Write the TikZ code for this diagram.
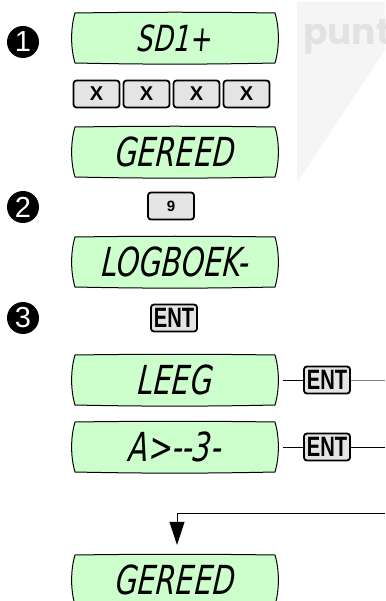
\documentclass[tikz,border=0pt]{standalone}
\usepackage{fontspec}
\newfontfamily\lcdfont[FakeStretch=0.72,FakeSlant=0.08]{DejaVu Sans}
\newfontfamily\keyfont{Liberation Sans}
\newfontfamily\entfont[FakeStretch=0.72]{Liberation Sans}
\newfontfamily\wmfont{Poppins}
\usetikzlibrary{arrows.meta}
\definecolor{lcdgreen}{HTML}{CCFFCC}
\definecolor{keygray}{HTML}{E4E4E4}
\definecolor{wmgray}{HTML}{F5F5F5}
\definecolor{wmtext}{HTML}{E2E2E2}
\tikzset{
  lcdframe/.style={draw=black, line width=1pt, fill=lcdgreen},
  lcdtext/.style={minimum width=208pt, minimum height=50pt, inner sep=0pt,
    font=\lcdfont\itshape\fontsize{40}{40}\selectfont},
  keybox/.style={draw=black, line width=1.8pt, fill=keygray, rounded corners=3pt,
    minimum width=46pt, minimum height=27pt, inner sep=0pt},
  xkey/.style={keybox, font=\keyfont\bfseries\fontsize{20}{20}\selectfont},
  entkey/.style={keybox, font=\entfont\bfseries\fontsize{28}{28}\selectfont},
  stepnum/.style={circle, fill=black, text=white, minimum size=32pt, inner sep=0pt,
    font=\keyfont\fontsize{29}{29}\selectfont},
  link/.style={draw=black, line width=1pt},
}
\newcommand\lcdbox[5][]{%
  \draw[lcdframe] (#3-100,#4-25) .. controls (#3-30,#4-26) and (#3+30,#4-26) .. (#3+100,#4-25)
    .. controls (#3+104.5,#4-10) and (#3+104.5,#4+10) .. (#3+100,#4+25)
    .. controls (#3+30,#4+26.5) and (#3-30,#4+26.5) .. (#3-100,#4+25)
    .. controls (#3-104.5,#4+10) and (#3-104.5,#4-10) .. cycle;
  \node[lcdtext,#1] (#2) at (#3,#4) {#5};}
\begin{document}
\begin{tikzpicture}[x=1pt,y=-1pt]
\useasboundingbox (0,0) rectangle (385,601);
\begin{scope}
\clip (0,0) rectangle (385,601);
% watermark
\fill[wmgray] (297,2) -- (385,2) -- (385,50) -- (297,183) -- cycle;
\node[anchor=base west, inner sep=0pt, text=wmtext, font=\wmfont\bfseries\fontsize{36}{36}\selectfont] (wm) at (303,45) {punt-};

% step numbers
\node[stepnum] (s1) at (23,42) {1};
\node[stepnum] (s2) at (23,207) {2};
\node[stepnum] (s3) at (23,318) {3};

% displays
\lcdbox[font=\lcdfont\itshape\fontsize{36}{36}\selectfont]{d1}{175}{38}{SD1+}
\lcdbox{d2}{175}{152}{GEREED}
\lcdbox{d3}{175}{262}{LOGBOEK-}
\lcdbox{d4}{175}{380}{LEEG}
\lcdbox{d5}{175}{447}{A>--3-}
\lcdbox{d6}{175}{580}{GEREED}

% keys
\node[xkey] (x1) at (96.5,94) {X};
\node[xkey] (x2) at (146.5,94) {X};
\node[xkey] (x3) at (196.5,94) {X};
\node[xkey] (x4) at (246.5,94) {X};
\node[keybox, font=\keyfont\bfseries\fontsize{15}{15}\selectfont] (k9) at (171,206) {9};
\node[entkey] (e1) at (174,318) {ENT};
\node[entkey] (e2) at (327,380) {ENT};
\node[entkey] (e3) at (327,447) {ENT};

% connectors
\coordinate (o2) at (385,380);
\coordinate (o3) at (385,447);
\coordinate (back) at (385,513);
\draw[link, shorten <=4pt] (d4.east) -- (e2.west);
\draw[draw=gray, line width=0.8pt] (e2.east) -- (o2);
\draw[link, shorten <=4pt] (d5.east) -- (e3.west);
\draw[link] (e3.east) -- (o3);
\draw[link, -{Triangle[width=15pt,length=23pt]}, shorten >=10pt] (back) -| ([xshift=2pt]d6.north);
\end{scope}
\end{tikzpicture}
\end{document}
